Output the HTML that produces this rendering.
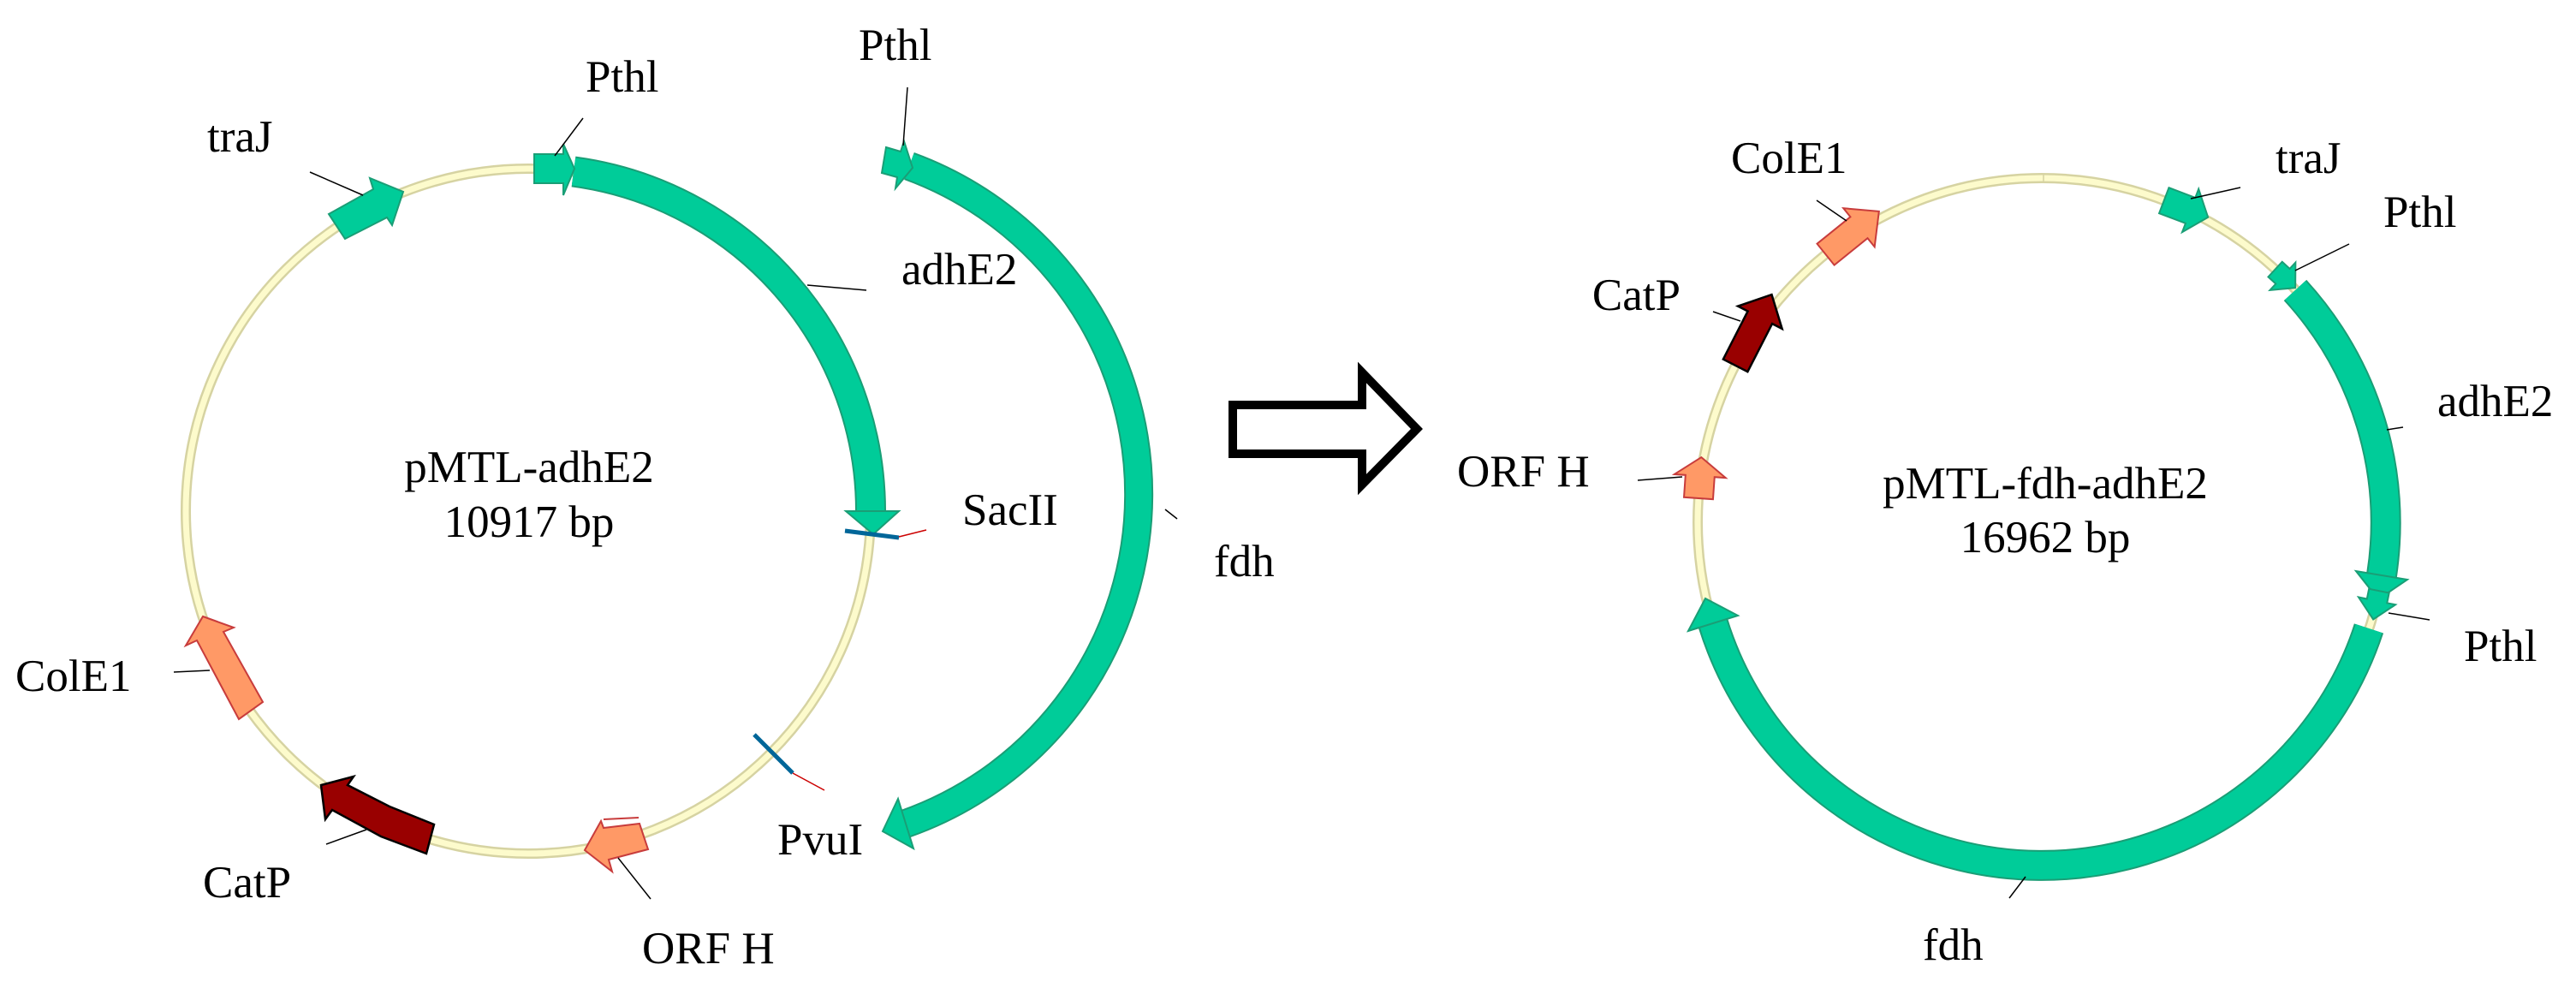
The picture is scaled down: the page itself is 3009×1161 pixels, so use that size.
<!DOCTYPE html>
<html><head><meta charset="utf-8"><style>
html,body{margin:0;padding:0;background:#fff;}
svg{display:block}
text{font-family:"Liberation Serif",serif;font-size:53px;fill:#000}
</style></head><body>
<svg width="3009" height="1161" viewBox="0 0 3009 1161" xmlns="http://www.w3.org/2000/svg">
<!-- LEFT PLASMID -->
<circle cx="617" cy="597" r="400" fill="none" stroke="#d6d3a2" stroke-width="12"/>
<circle cx="617" cy="597" r="400" fill="none" stroke="#fdfbcc" stroke-width="7"/>
<!-- adhE2 -->
<path d="M670 200.5 A400 400 0 0 1 1017 597" fill="none" stroke="#1a9e76" stroke-width="36"/>
<path d="M670 200.5 A400 400 0 0 1 1017 597" fill="none" stroke="#00cc99" stroke-width="32"/>
<polygon points="988,597 1050,597 1020,624" fill="#00cc99" stroke="#1a9e76" stroke-width="2"/>
<!-- Pthl -->
<polygon points="624,180 658,180 658,168 671,197 658,228 658,214 624,214" fill="#00cc99" stroke="#1a9e76" stroke-width="2"/>
<!-- traJ -->
<polygon points="384,250 436,221 432,208 471,224 458,263 452,254 403,279" fill="#00cc99" stroke="#1a9e76" stroke-width="2"/>
<!-- ColE1 -->
<polygon points="237,720 273,733 261,738 307,820 279,840 230,748 217,754" fill="#ff9966" stroke="#c83c3c" stroke-width="2"/>
<!-- CatP -->
<polygon points="375,917 413,907 406,917 455,942 507,963 498,997 445,977 388,946 380,957" fill="#990000" stroke="#000" stroke-width="2.5"/>
<!-- ORF H -->
<polygon points="683,993 702,959 705,967 747,962 757,992 711,1004 715,1018" fill="#ff9966" stroke="#c83c3c" stroke-width="2"/>
<line x1="705" y1="957" x2="746" y2="955" stroke="#c83c3c" stroke-width="2"/>
<!-- SacII / PvuI -->
<line x1="987" y1="620" x2="1050" y2="628" stroke="#006699" stroke-width="5"/>
<line x1="1050" y1="627" x2="1082" y2="619" stroke="#cc0000" stroke-width="1.5"/>
<line x1="881" y1="858" x2="926" y2="903" stroke="#006699" stroke-width="5"/>
<line x1="926" y1="903" x2="963" y2="923" stroke="#cc0000" stroke-width="1.5"/>
<!-- fdh fragment -->
<path d="M1062 194 A408 408 0 0 1 1058 962" fill="none" stroke="#1a9e76" stroke-width="34"/>
<path d="M1062 194 A408 408 0 0 1 1058 962" fill="none" stroke="#00cc99" stroke-width="30"/>
<path d="M1058 214 A388 388 0 0 1 1054 942" fill="none" stroke="#fff" stroke-width="2"/>
<polygon points="1067,991 1049,933 1031,971" fill="#00cc99" stroke="#1a9e76" stroke-width="2"/>
<polygon points="1035,172 1052,177 1056,165 1066,196 1046,220 1048,207 1030,202" fill="#00cc99" stroke="#1a9e76" stroke-width="2"/>
<!-- left leaders -->
<g stroke="#000" stroke-width="1.5">
<line x1="362" y1="201" x2="424" y2="228"/>
<line x1="681" y1="138" x2="648" y2="182"/>
<line x1="1060" y1="102" x2="1055" y2="170"/>
<line x1="943" y1="333" x2="1012" y2="339"/>
<line x1="1361" y1="595" x2="1375" y2="606"/>
<line x1="722" y1="1002" x2="760" y2="1050"/>
<line x1="381" y1="986" x2="428" y2="969"/>
<line x1="203" y1="785" x2="245" y2="783"/>
</g>
<text x="242" y="177">traJ</text>
<text x="684" y="107">Pthl</text>
<text x="1003" y="70">Pthl</text>
<text x="1053" y="332">adhE2</text>
<text x="1124" y="613">SacII</text>
<text x="1418" y="673">fdh</text>
<text x="908" y="998">PvuI</text>
<text x="750" y="1125">ORF H</text>
<text x="237" y="1048">CatP</text>
<text x="18" y="807">ColE1</text>
<text x="618" y="563" text-anchor="middle">pMTL-adhE2</text>
<text x="618" y="627" text-anchor="middle">10917 bp</text>

<!-- BIG ARROW -->
<polygon points="1440,473 1591,473 1591,435 1655,501 1591,566 1591,530 1440,530" fill="#fff" stroke="#000" stroke-width="10"/>

<!-- RIGHT PLASMID -->
<circle cx="2385" cy="610" r="402" fill="none" stroke="#d6d3a2" stroke-width="12"/>
<circle cx="2385" cy="610" r="402" fill="none" stroke="#fdfbcc" stroke-width="7"/>
<line x1="2387" y1="203" x2="2387" y2="214" stroke="#d6d3a2" stroke-width="1.5"/>
<!-- adhE2 -->
<path d="M2681 339 A402 402 0 0 1 2782 672" fill="none" stroke="#1a9e76" stroke-width="36"/>
<path d="M2681 339 A402 402 0 0 1 2782 672" fill="none" stroke="#00cc99" stroke-width="32"/>
<polygon points="2812,677 2752,667 2778,700" fill="#00cc99" stroke="#1a9e76" stroke-width="2"/>
<!-- fdh -->
<path d="M2767 734 A402 402 0 0 1 2001 728" fill="none" stroke="#1a9e76" stroke-width="36"/>
<path d="M2767 734 A402 402 0 0 1 2001 728" fill="none" stroke="#00cc99" stroke-width="32"/>
<polygon points="1972,737 2030,719 1992,699" fill="#00cc99" stroke="#1a9e76" stroke-width="2"/>
<!-- small arrows via rotation: drawn at top of circle -->
<g transform="translate(2385 610)">
 <!-- traJ -->
 <g transform="rotate(20.8)"><polygon points="0,-418 33,-418 33,-429 55,-402 33,-375 33,-386 0,-386" fill="#00cc99" stroke="#1a9e76" stroke-width="2"/></g>
 <!-- Pthl -->
 <g transform="rotate(42.7)"><polygon points="0,-414 12,-414 12,-424 32,-402 12,-380 12,-390 0,-390" fill="#00cc99" stroke="#1a9e76" stroke-width="2"/></g>
 <!-- Pthl2 -->
 <g transform="rotate(101.5)"><polygon points="0,-414 12,-414 12,-424 34,-402 12,-380 12,-390 0,-390" fill="#00cc99" stroke="#1a9e76" stroke-width="2"/></g>
 <!-- ColE1 -->
 <g transform="rotate(-38.9)"><polygon points="0,-418 50,-418 50,-431 80,-402 50,-373 50,-386 0,-386" fill="#ff9966" stroke="#c83c3c" stroke-width="2"/></g>
 <!-- CatP -->
 <g transform="rotate(-62.9)"><polygon points="0,-418 63,-418 63,-431 93,-402 63,-373 63,-386 0,-386" fill="#990000" stroke="#000" stroke-width="2.5"/></g>
 <!-- ORF H -->
 <g transform="rotate(-86)"><polygon points="0,-419 26,-419 26,-432 48,-402 26,-372 26,-385 0,-385" fill="#ff9966" stroke="#c83c3c" stroke-width="2"/></g>
</g>
<!-- right leaders -->
<g stroke="#000" stroke-width="1.5">
<line x1="2122" y1="234" x2="2157" y2="258"/>
<line x1="2001" y1="364" x2="2033" y2="375"/>
<line x1="1913" y1="561" x2="1965" y2="557"/>
<line x1="2617" y1="219" x2="2559" y2="232"/>
<line x1="2744" y1="285" x2="2681" y2="316"/>
<line x1="2788" y1="502" x2="2807" y2="499"/>
<line x1="2790" y1="716" x2="2838" y2="724"/>
<line x1="2366" y1="1024" x2="2347" y2="1049"/>
</g>
<text x="2022" y="202">ColE1</text>
<text x="1963" y="362" text-anchor="end">CatP</text>
<text x="1702" y="568">ORF H</text>
<text x="2658" y="202">traJ</text>
<text x="2784" y="265">Pthl</text>
<text x="2847" y="486">adhE2</text>
<text x="2878" y="772">Pthl</text>
<text x="2246" y="1121">fdh</text>
<text x="2389" y="582" text-anchor="middle">pMTL-fdh-adhE2</text>
<text x="2389" y="645" text-anchor="middle">16962 bp</text>
</svg>
</body></html>
